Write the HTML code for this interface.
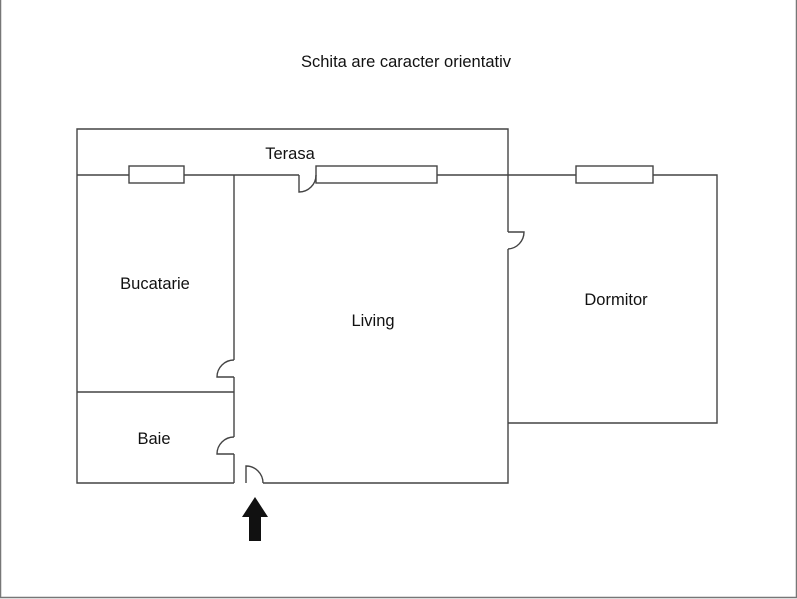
<!DOCTYPE html>
<html><head><style>
html,body{margin:0;padding:0;background:#fff;}
svg{display:block;}
text{font-family:"Liberation Sans",sans-serif;fill:#111;}
</style></head><body>
<svg width="797" height="599" viewBox="0 0 797 599" xmlns="http://www.w3.org/2000/svg">
<rect x="0" y="0" width="797" height="599" fill="#fff"/>
<path d="M0.5 0 V597.5 H796.5 V0" fill="none" stroke="#777" stroke-width="1.5"/>
<g fill="none" stroke="#444" stroke-width="1.4">
<path d="M77 175 V129 H508 V175"/>
<path d="M77 175 H299 M316 175 H717 V423 H508"/>
<rect x="129" y="166" width="55" height="17" fill="#fff"/>
<rect x="316" y="166" width="121" height="17" fill="#fff"/>
<rect x="576" y="166" width="77" height="17" fill="#fff"/>
<path d="M299 175 V192 A17 17 0 0 0 316 175"/>
<path d="M77 175 V483 H234"/>
<path d="M77 392 H234"/>
<path d="M234 175 V360 M234 377 V437 M234 454 V483"/>
<path d="M234 377 H217 A17 17 0 0 1 234 360"/>
<path d="M234 454 H217 A17 17 0 0 1 234 437"/>
<path d="M263 483 H508 V249 M508 232 V175"/>
<path d="M246 483 V466 A17 17 0 0 1 263 483"/>
<path d="M508 232 H524 A17 17 0 0 1 508 249"/>
</g>
<polygon points="255,497 268,517 261,517 261,541 249,541 249,517 242,517" fill="#111"/>
<text x="406" y="67" font-size="16.5" text-anchor="middle">Schita are caracter orientativ</text>
<text x="290" y="159" font-size="16.5" text-anchor="middle">Terasa</text>
<text x="155" y="289" font-size="16.5" text-anchor="middle">Bucatarie</text>
<text x="373" y="326" font-size="16.5" text-anchor="middle">Living</text>
<text x="616" y="305" font-size="16.5" text-anchor="middle">Dormitor</text>
<text x="154" y="444" font-size="16.5" text-anchor="middle">Baie</text>
</svg>
</body></html>
